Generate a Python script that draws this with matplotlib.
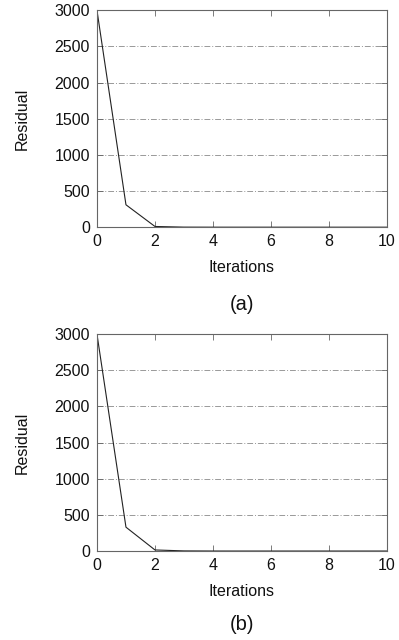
import matplotlib
matplotlib.use("Agg")
import matplotlib.pyplot as plt

plt.rcParams['font.family'] = ['Liberation Sans', 'DejaVu Sans']

iterations = [0, 1, 2, 3, 4, 5, 6, 7, 8, 9, 10]
residual_a = [3000, 310, 10, 1, 0.2, 0.05, 0.01, 0, 0, 0, 0]
residual_b = [3000, 330, 15, 2, 0.3, 0.05, 0.01, 0, 0, 0, 0]
y_ticks = [0, 500, 1000, 1500, 2000, 2500, 3000]
x_ticks = [0, 2, 4, 6, 8, 10]
panel_labels = ['(a)', '(b)']

fig = plt.figure(figsize=(3.99, 6.4), dpi=100)
positions = [[0.243, 0.645, 0.727, 0.339], [0.243, 0.139, 0.727, 0.339]]
label_y = [305, 625]
xlab_y = [267, 592]

for pos, res, lab, ly, xy in zip(positions, [residual_a, residual_b], panel_labels, label_y, xlab_y):
    ax = fig.add_axes(pos)
    ax.plot(iterations, res, color='#222222', lw=0.8)
    ax.set_xlim(0, 10)
    ax.set_ylim(0, 3000)
    ax.set_xticks(x_ticks)
    ax.set_yticks(y_ticks)
    ax.yaxis.grid(True, color='#999999', linestyle=(0, (6, 2, 1, 2)), lw=0.7)
    ax.tick_params(direction='in', top=True, right=True, labelsize=11.5, length=4, width=0.6,
                   color='#666666', labelcolor='#111111', pad=5)
    for s in ax.spines.values():
        s.set_linewidth(0.8)
        s.set_color('#666666')
    fig.text(pos[0] + pos[2] / 2, 1 - xy / 640, 'Iterations', ha='center', va='center', fontsize=11.5, color='#111111')
    fig.text(22 / 399, pos[1] + pos[3] / 2, 'Residual', ha='center', va='center', rotation=90, fontsize=11.5, color='#111111')
    fig.text(pos[0] + pos[2] / 2, 1 - ly / 640, lab, ha='center', va='center', fontsize=14.5, color='#111111')

fig.savefig('out.png', dpi=100)
